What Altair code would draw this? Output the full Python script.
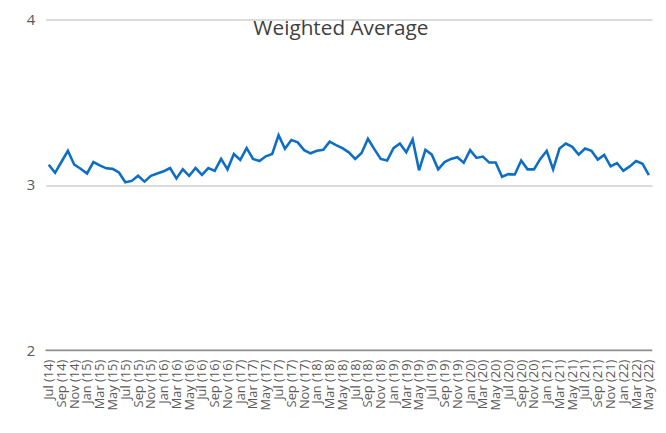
import altair as alt
import pandas as pd

months = ["Jan", "Feb", "Mar", "Apr", "May", "Jun", "Jul", "Aug", "Sep", "Oct", "Nov", "Dec"]

values = [
    3.122, 3.073, 3.140, 3.206, 3.122, 3.098, 3.069, 3.138, 3.118, 3.100,
    3.097, 3.075, 3.016, 3.024, 3.055, 3.020, 3.055, 3.069, 3.082, 3.102,
    3.039, 3.094, 3.055, 3.102, 3.061, 3.102, 3.085, 3.157, 3.094, 3.187,
    3.151, 3.222, 3.157, 3.144, 3.173, 3.187, 3.300, 3.218, 3.271, 3.257,
    3.210, 3.191, 3.206, 3.212, 3.261, 3.240, 3.222, 3.197, 3.157, 3.193,
    3.279, 3.216, 3.157, 3.147, 3.222, 3.250, 3.197, 3.275, 3.088, 3.212,
    3.183, 3.094, 3.138, 3.157, 3.167, 3.134, 3.210, 3.163, 3.171, 3.135,
    3.135, 3.049, 3.065, 3.063, 3.147, 3.094, 3.094, 3.157, 3.206, 3.094,
    3.220, 3.250, 3.230, 3.183, 3.220, 3.206, 3.153, 3.181, 3.112, 3.132,
    3.085, 3.112, 3.144, 3.128, 3.059,
]

# months from Jul 2014 to May 2022
labels = []
y, m = 2014, 7
for _ in range(len(values)):
    labels.append(f"{months[m - 1]} ({y % 100:02d})")
    m += 1
    if m > 12:
        m = 1
        y += 1

df = pd.DataFrame({"month": labels, "value": values})
shown = labels[::2]

line = alt.Chart(df).mark_line(color="#0E6EC4", strokeWidth=2.6).encode(
    x=alt.X(
        "month:O",
        sort=labels,
        scale=alt.Scale(type="point", padding=0.5),
        axis=alt.Axis(
            title=None,
            values=shown,
            labelAngle=-90,
            labelFont="Open Sans",
            labelFontSize=13,
            labelColor="#595959",
            labelPadding=9,
            ticks=False,
            domain=False,
            grid=False,
            labelOverlap=False,
        ),
    ),
    y=alt.Y(
        "value:Q",
        scale=alt.Scale(domain=[2, 4]),
        axis=alt.Axis(
            title=None,
            tickCount=2,
            labelFont="Open Sans",
            labelFontSize=15,
            labelColor="#595959",
            labelPadding=11,
            labelOverlap=False,
            ticks=False,
            domain=False,
            gridColor="#d0d0d0",
            gridWidth=1.5,
        ),
    ),
)

base_rule = alt.Chart(alt.Data(values=[{"v": 2}])).mark_rule(
    color="#8c8c8c", strokeWidth=1.5
).encode(y=alt.Y("v:Q", scale=alt.Scale(domain=[2, 4])))

title = alt.Chart(alt.Data(values=[{"t": "Weighted Average"}])).mark_text(
    font="Open Sans", fontSize=21, color="#404040", baseline="alphabetic", align="center"
).encode(text="t:N", x=alt.value(299), y=alt.value(16))

chart = (
    alt.layer(line, base_rule, title)
    .properties(
        width=614,
        height=335,
        autosize=alt.AutoSizeParams(type="none"),
        padding={"left": 38, "top": 9, "right": 6, "bottom": 75},
    )
    .configure_view(stroke=None)
)

chart.save("out.html", embed_options={"renderer": "svg", "actions": False})
